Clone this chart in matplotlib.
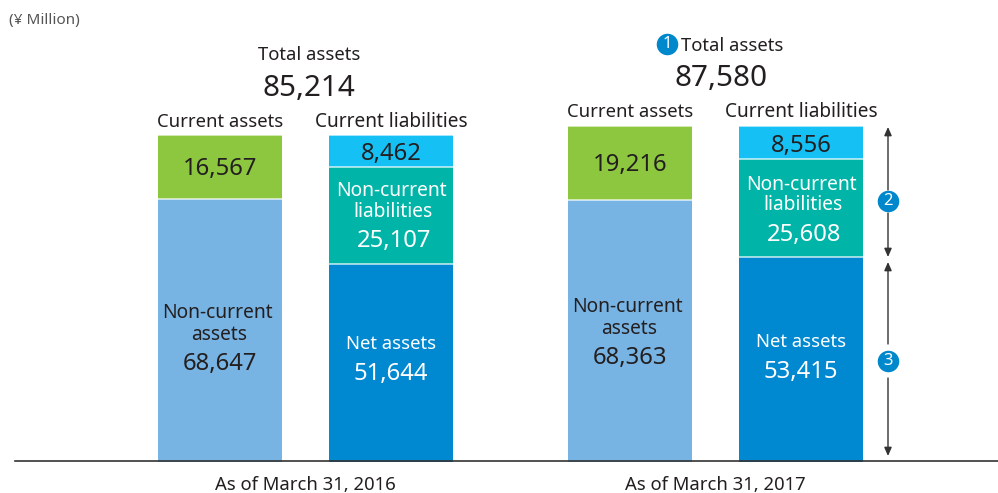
import matplotlib
matplotlib.use("Agg")
import matplotlib.pyplot as plt

plt.rcParams['font.family'] = ['Noto Sans', 'DejaVu Sans']

periods = ["As of March 31, 2016", "As of March 31, 2017"]
total_assets = [85214, 87580]
non_current_assets = [68647, 68363]
current_assets = [16567, 19216]
net_assets = [51644, 53415]
non_current_liabilities = [25107, 25608]
current_liabilities = [8462, 8556]
unit_label = "(¥ Million)"

W, H = 998, 493
BASE_PX, SCALE = 461.5, 335.5 / 87580


def ypx(p):
    """pixel row to value"""
    return (BASE_PX - p) / SCALE


fig = plt.figure(figsize=(W / 100, H / 100), dpi=100)
ax = fig.add_axes([0, 0, 1, 1])
ax.set_xlim(0, W)
ax.set_ylim(ypx(H), ypx(0))
ax.axis('off')

DARK = '#231f20'
C_NCA, C_CA = '#78b4e3', '#8dc63f'
C_NET, C_NCL, C_CL = '#0088d0', '#00b5a7', '#15c0f5'
BLUE = '#0088cc'
BW = 124
LEFT = [158, 568]
RIGHT = [329, 739]
FS_LABEL, FS_WRAP, FS_NUM, FS_TOTAL = 13.3, 13.8, 17.2, 21.4
DY = 2.5
# vertical text offsets per panel, measured against the reference
NET_OFF = [77.5, 82.5]
NCA_OFF = [0, 1]
CL_OFF = [0.5, 1.5]
NCL_OFF = [0, 1]


def fmt(v):
    return f"{v:,}"


def seg(x, bottom, val, color):
    ax.bar(x, val, BW, bottom=bottom, align='edge', color=color,
           edgecolor='none', zorder=2)
    ax.plot([x, x + BW], [bottom + val] * 2, color='#ffffff', lw=1.1,
            alpha=0.8, zorder=3, solid_capstyle='butt')


def t(x, p, s, size, color=DARK):
    ax.text(x, ypx(p + DY), s, fontsize=size, color=color, ha='center',
            va='center', zorder=5)


def badge(x, p, s):
    ax.plot([x], [ypx(p)], 'o', ms=15.5, color=BLUE, mec='none', zorder=6)
    ax.text(x, ypx(p), s, fontsize=12, color='#ffffff', ha='center',
            va='center', zorder=7)


def varrow(x, p0, p1):
    ax.annotate('', xy=(x, ypx(p1)), xytext=(x, ypx(p0)),
                arrowprops=dict(arrowstyle='-|>,head_width=0.22,head_length=0.5',
                                color='#333333', lw=1, shrinkA=0, shrinkB=0), zorder=4)


for i in range(2):
    lx, rx = LEFT[i], RIGHT[i]
    seg(lx, 0, non_current_assets[i], C_NCA)
    seg(lx, non_current_assets[i], current_assets[i], C_CA)
    seg(rx, 0, net_assets[i], C_NET)
    seg(rx, net_assets[i], non_current_liabilities[i], C_NCL)
    seg(rx, net_assets[i] + non_current_liabilities[i], current_liabilities[i], C_CL)
    lc, rc = lx + BW / 2, rx + BW / 2
    top = BASE_PX - total_assets[i] * SCALE
    ca_mid = BASE_PX - (non_current_assets[i] + current_assets[i] / 2) * SCALE
    cl_mid = BASE_PX - (net_assets[i] + non_current_liabilities[i] + current_liabilities[i] / 2) * SCALE
    t(lc, ca_mid, fmt(current_assets[i]), FS_NUM)
    t(rc, cl_mid - 0.5 + CL_OFF[i], fmt(current_liabilities[i]), FS_NUM)
    nb = BASE_PX - net_assets[i] * SCALE
    t(lc - 3, nb + 47 + NCA_OFF[i], "Non-current", FS_WRAP)
    t(lc - 1, nb + 68.5 + NCA_OFF[i], "assets", FS_WRAP)
    t(lc, nb + 97.5 + NCA_OFF[i], fmt(non_current_assets[i]), FS_NUM)
    t(rc, nb - 75 + NCL_OFF[i], "Non-current", FS_WRAP, color='#ffffff')
    t(rc + 2.5, nb - 54, "liabilities", FS_WRAP, color='#ffffff')
    t(rc + 3.5, nb - 25 + NCL_OFF[i], fmt(non_current_liabilities[i]), FS_NUM, color='#ffffff')
    t(rc, nb + NET_OFF[i], "Net assets", FS_LABEL, color='#ffffff')
    t(rc, nb + NET_OFF[i] + 30, fmt(net_assets[i]), FS_NUM, color='#ffffff')
    t(lc, top - 16, "Current assets", FS_LABEL)
    t(rc, top - 16, "Current liabilities", 13.7)
    t((lx + rx + BW) / 2, 482.5, periods[i], FS_LABEL)

t(309, 52.5, "Total assets", FS_LABEL)
t(309, 86, fmt(total_assets[0]), FS_TOTAL)
t(732, 43.5, "Total assets", FS_LABEL)
t(721, 76.5, fmt(total_assets[1]), FS_TOTAL)
badge(667, 44, "1")

ax.text(9, ypx(21), unit_label, fontsize=11, color='#555555', ha='left', va='center')

ax.plot([15, 998], [ypx(461)] * 2, color='#333333', lw=1.2, zorder=6, clip_on=False)

varrow(888, 190, 127)
varrow(888, 213, 257)
varrow(888, 344, 262)
varrow(888, 378, 456)
badge(888, 201, "2")
badge(888, 361, "3")

fig.savefig("out.png", dpi=100)
